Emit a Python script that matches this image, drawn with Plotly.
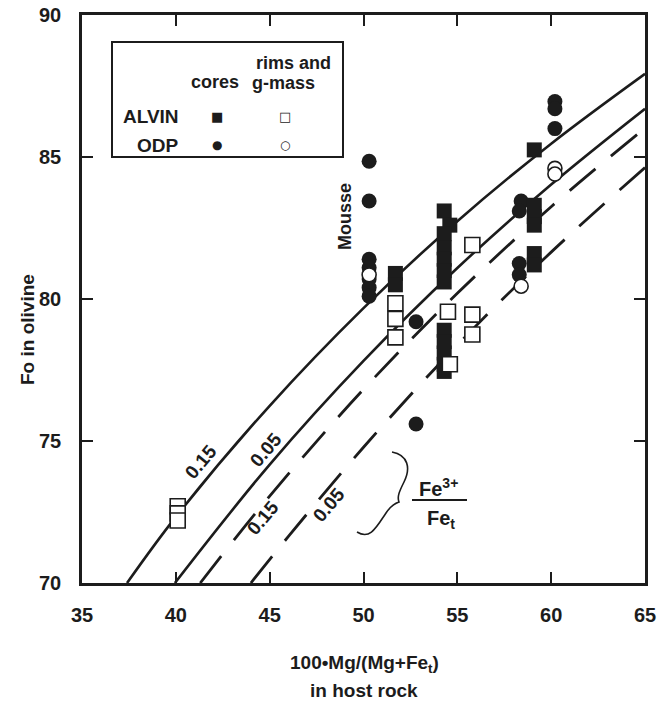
import plotly.graph_objects as go

# ---------------- data ----------------
alvin_core_x = [51.7, 51.7, 54.3, 54.6, 54.3, 54.3, 54.3, 54.3, 54.3, 54.3, 54.3, 54.3, 54.3, 54.3,
                59.1, 59.1, 59.1, 59.1, 59.1, 59.1]
alvin_core_y = [80.9, 80.5, 83.1, 82.6, 82.3, 81.8, 81.4, 81.0, 80.6, 78.9, 78.5, 78.1, 77.7, 77.45,
                85.25, 83.3, 82.9, 82.6, 81.6, 81.2]

alvin_rim_x = [40.1, 40.1, 40.1, 51.7, 51.7, 51.7, 54.5, 54.6, 55.8, 55.8, 55.8]
alvin_rim_y = [72.7, 72.45, 72.2, 79.85, 79.3, 78.65, 79.55, 77.7, 81.9, 79.45, 78.75]

odp_core_x = [50.3, 50.3, 50.3, 50.3, 50.3, 50.3, 50.3, 52.8, 52.8, 58.4, 58.3, 58.3, 58.3, 60.2, 60.2, 60.2]
odp_core_y = [84.85, 83.45, 81.4, 81.1, 80.7, 80.4, 80.1, 79.2, 75.6, 83.45, 83.1, 81.25, 80.85, 86.95, 86.7, 86.0]

odp_rim_x = [50.3, 58.4, 60.2, 60.2]
odp_rim_y = [80.85, 80.45, 84.6, 84.4]

# equilibrium curves (Fe3+/Fet labels)
solid015_x = [37.4, 40, 45, 50, 55, 60, 65]
solid015_y = [70.0, 72.33, 76.24, 79.68, 82.74, 85.47, 87.93]
solid005_x = [39.95, 45, 50, 55, 60, 65]
solid005_y = [70.0, 74.17, 77.82, 81.09, 84.03, 86.70]
dash015_x = [41.3, 45, 50, 55, 60, 65]
dash015_y = [70.0, 73.06, 76.82, 80.20, 83.25, 86.02]
dash005_x = [44.0, 46, 50, 55, 60, 65]
dash005_y = [70.0, 71.64, 74.78, 78.38, 81.65, 84.63]

x_ticks = [35, 40, 45, 50, 55, 60, 65]
y_ticks = [70, 75, 80, 85, 90]

# ---------------- layout helpers ----------------
W, H = 658, 701
ML, MR, MT, MB = 82, 13, 15, 118
X0, X1, Y0, Y1 = 35, 65, 70, 90
PW, PH = W - ML - MR, H - MT - MB

def dx(px):
    return X0 + (px - ML) / PW * (X1 - X0)

def dy(py):
    return Y1 - (py - MT) / PH * (Y1 - Y0)

def px_(px):
    return (px - ML) / PW

def py_(py):
    return (H - MB - py) / PH

INK = "#1c1c1c"
FONT = "Liberation Sans, Arial, sans-serif"

fig = go.Figure()

line_style = dict(color=INK, width=2.6, shape="spline")
fig.add_trace(go.Scatter(x=solid015_x, y=solid015_y, mode="lines", line=line_style, hoverinfo="skip"))
fig.add_trace(go.Scatter(x=solid005_x, y=solid005_y, mode="lines", line=line_style, hoverinfo="skip"))
fig.add_trace(go.Scatter(x=dash015_x, y=dash015_y, mode="lines",
                         line=dict(color=INK, width=2.8, shape="spline", dash="34px,20px"), hoverinfo="skip"))
fig.add_trace(go.Scatter(x=dash005_x, y=dash005_y, mode="lines",
                         line=dict(color=INK, width=2.8, shape="spline", dash="34px,20px"), hoverinfo="skip"))

fig.add_trace(go.Scatter(x=odp_core_x, y=odp_core_y, mode="markers",
                         marker=dict(symbol="circle", size=15, color=INK, line=dict(width=0))))
fig.add_trace(go.Scatter(x=alvin_core_x, y=alvin_core_y, mode="markers",
                         marker=dict(symbol="square", size=15, color=INK, line=dict(width=0))))
fig.add_trace(go.Scatter(x=alvin_rim_x, y=alvin_rim_y, mode="markers",
                         marker=dict(symbol="square", size=15, color="white", line=dict(width=1.6, color=INK))))
fig.add_trace(go.Scatter(x=odp_rim_x, y=odp_rim_y, mode="markers",
                         marker=dict(symbol="circle", size=14, color="white", line=dict(width=1.6, color=INK))))

ann = []
def text(x, y, t, size=19, angle=0, bold=True, xanchor="center", yanchor="middle", ref="data", family=FONT):
    d = dict(x=x, y=y, text=("<b>%s</b>" % t) if bold else t, showarrow=False, textangle=angle,
             font=dict(family=family, size=size, color=INK), xanchor=xanchor, yanchor=yanchor)
    if ref == "paper":
        d.update(xref="paper", yref="paper")
    ann.append(d)

# curve labels
text(dx(200), dy(462), "0.15", angle=-50, size=19)
text(dx(265), dy(450), "0.05", angle=-50, size=19)
text(dx(262), dy(518), "0.15", angle=-50, size=19)
text(dx(328), dy(505), "0.05", angle=-50, size=19)

# Mousse label
text(dx(345), dy(217), "Mousse", angle=-90, size=18)

# Fe3+/Fet fraction
text(dx(438), dy(487), "Fe<sup>3+</sup>", size=20)
text(dx(441), dy(519), "Fe<sub>t</sub>", size=20)

# legend texts
text(px_(293), py_(63), "rims and", size=18, ref="paper")
text(px_(283), py_(83), "g-mass", size=18, ref="paper")
text(px_(215), py_(82), "cores", size=18, ref="paper")
text(px_(181), py_(116), "ALVIN", size=19, xanchor="right", ref="paper")
text(px_(181), py_(145), "ODP", size=19, xanchor="right", ref="paper")
text(px_(217), py_(116), "■", size=13, bold=False, ref="paper", family="DejaVu Sans")
text(px_(285), py_(116), "□", size=13, bold=False, ref="paper", family="DejaVu Sans")
text(px_(217), py_(145), "●", size=12, bold=False, ref="paper", family="DejaVu Sans")
text(px_(285), py_(145), "○", size=12, bold=False, ref="paper", family="DejaVu Sans")

# axis titles
text(px_(364), py_(664), "100•Mg/(Mg+Fe<sub>t</sub>)", size=19, ref="paper")
text(px_(364), py_(690), "in host rock", size=19, ref="paper")
text(px_(27), py_(330), "Fo in olivine", size=19, angle=-90, ref="paper")

shapes = []
# legend box
shapes.append(dict(type="rect", xref="paper", yref="paper", x0=px_(112), x1=px_(343), y0=py_(157), y1=py_(42),
                   line=dict(color=INK, width=2)))
# fraction bar
shapes.append(dict(type="line", xref="x", yref="y", x0=dx(412), x1=dx(467), y0=dy(500), y1=dy(500),
                   line=dict(color=INK, width=2)))
# curly brace
pts = [(392, 452), (408, 455), (411, 468), (404, 482), (399, 492), (397, 497), (399, 502),
       (393, 504), (390, 507), (386, 513), (376, 528), (370, 540), (357, 532)]
p = "M %f %f " % (dx(pts[0][0]), dy(pts[0][1]))
for i in range(1, len(pts), 3):
    seg = pts[i:i + 3]
    p += "C " + " ".join("%f %f" % (dx(a), dy(b)) for a, b in seg) + " "
shapes.append(dict(type="path", xref="x", yref="y", path=p, line=dict(color=INK, width=1.6)))

axis_common = dict(showgrid=False, zeroline=False, showline=True, linecolor=INK, linewidth=2.6,
                   mirror="ticks", ticks="inside", ticklen=11, tickwidth=2, tickcolor=INK,
                   tickfont=dict(family=FONT, size=20, color=INK, weight="bold"))

fig.update_layout(
    width=W, height=H, margin=dict(l=ML, r=MR, t=MT, b=MB, autoexpand=False),
    paper_bgcolor="white", plot_bgcolor="white", showlegend=False,
    xaxis=dict(range=[X0, X1], tickvals=x_ticks, ticklabelstandoff=12, **axis_common),
    yaxis=dict(range=[Y0, Y1], tickvals=y_ticks, ticklabelstandoff=14, **axis_common),
    annotations=ann, shapes=shapes,
)

fig.write_html("out.html")
